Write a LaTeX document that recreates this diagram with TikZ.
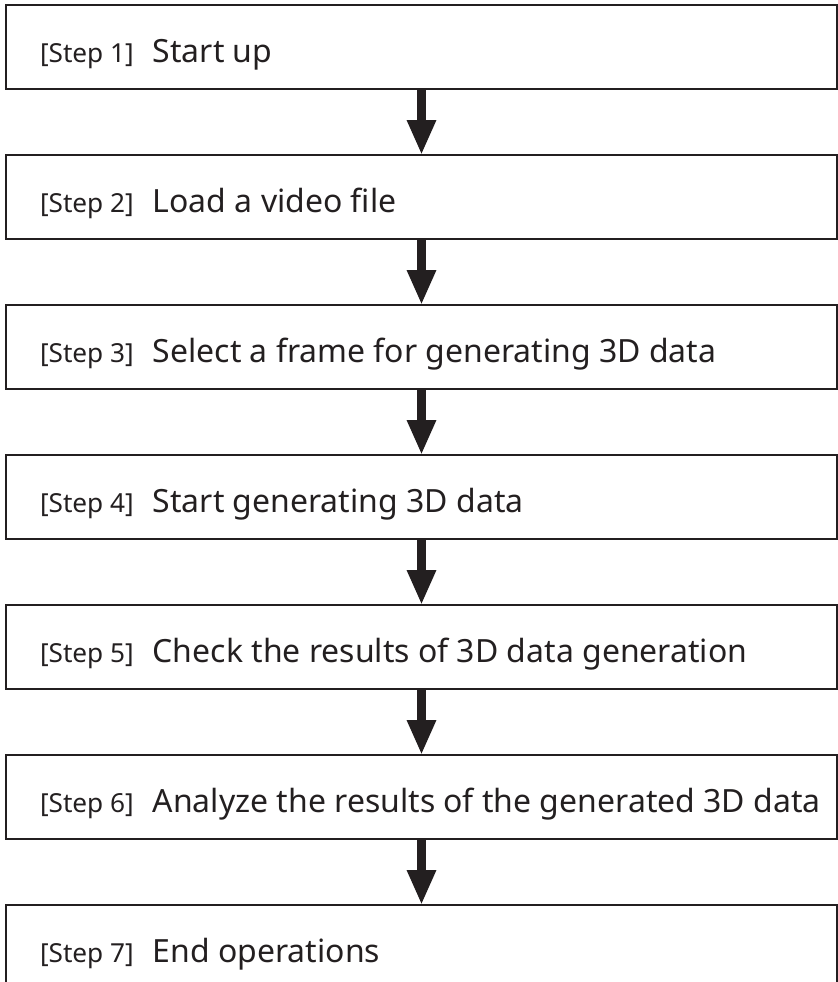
\documentclass[tikz,border=0pt]{standalone}
\usepackage{fontspec}
\setmainfont{Noto Sans}
\usetikzlibrary{positioning,arrows.meta}
\definecolor{ink}{RGB}{35,31,32}
\tikzset{>={Triangle[width=27bp,length=35bp]}, % wide solid tips
  stepbox/.style={draw=ink, line width=2.5bp, outer sep=0pt,
    minimum height=84bp, inner xsep=34bp,
    text height=30bp, text depth=0pt, text=ink,
    font={\fontsize{32.1}{37}\selectfont}},
  flow/.style={->, draw=ink, fill=ink, line width=9bp},
}
% tag in smaller type, then the step text, flush left in the box
\newcommand{\steptext}[2]{\hbox to 763bp{%
    {\fontsize{26.3}{30}\selectfont[Step #1]}\hspace{19bp}#2\hss}}

\begin{document}
\begin{tikzpicture}[node distance=66bp]

  \useasboundingbox (0,0) rectangle (838bp,-982bp);
  \clip (0,0) rectangle (838bp,-982bp);

  \node [stepbox, anchor=north west] at (6bp,-5bp) (step1)
  {\steptext{1}{Start up}};
  \node [stepbox, below=of step1] (step2) {\steptext{2}{Load a video file}};
  \node [stepbox, below=of step2] (step3)
  {\steptext{3}{Select a frame for generating 3D data}};
  \node [stepbox, below=of step3] (step4)
  {\steptext{4}{Start generating 3D data}};
  \node [stepbox, below=of step4] (step5)
  {\steptext{5}{Check the results of 3D data generation}};
  \node [stepbox, below=of step5] (step6)
  {\steptext{6}{Analyze the results of the generated 3D data}};
  \node [stepbox, below=of step6] (step7) {\steptext{7}{End operations}};

  \draw [flow] (step1) -- (step2);
  \draw [flow] (step2) -- (step3);
  \draw [flow] (step3) -- (step4);
  \draw [flow] (step4) -- (step5);
  \draw [flow] (step5) -- (step6);
  \draw [flow] (step6) -- (step7);

\end{tikzpicture}
\end{document}
